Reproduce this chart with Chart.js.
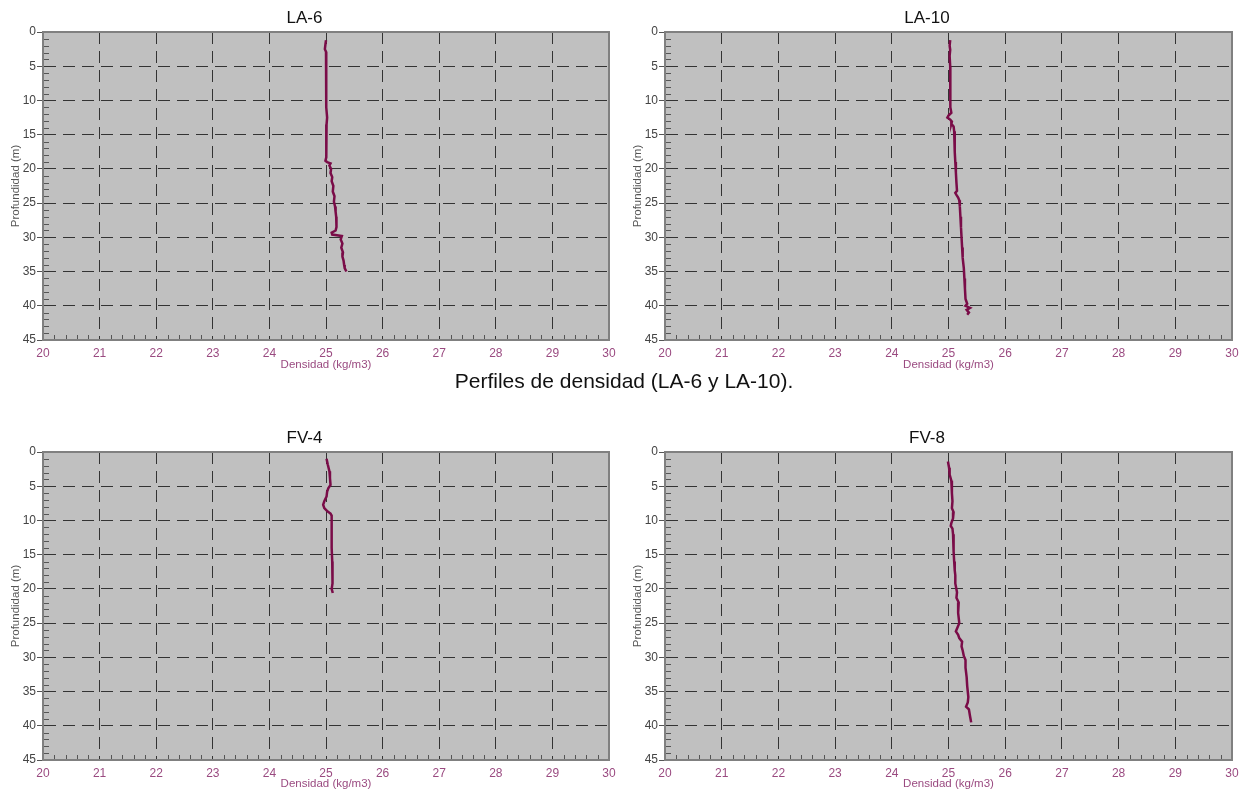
<!DOCTYPE html>
<html>
<head>
<meta charset="utf-8">
<script src="https://cdn.jsdelivr.net/npm/chart.js@4.4.1/dist/chart.umd.min.js"></script>
<style>
  html, body { margin: 0; padding: 0; background: #ffffff; overflow: hidden; }
  body { width: 1246px; height: 791px; position: relative; font-family: Arial, "Liberation Sans", sans-serif; }
  canvas { position: absolute; }
  #caption { position: absolute; left: 0; width: 1248px; top: 369px; text-align: center; font-size: 21px; color: #111; font-family: Arial, "Liberation Sans", sans-serif; }
</style>
</head>
<body>
<canvas id="c1" width="623" height="372" style="left:0px;top:0px"></canvas>
<canvas id="c2" width="624" height="372" style="left:622px;top:0px"></canvas>
<canvas id="c3" width="623" height="371" style="left:0px;top:420px"></canvas>
<canvas id="c4" width="624" height="371" style="left:622px;top:420px"></canvas>
<div id="caption">Perfiles de densidad (LA-6 y LA-10).</div>
<script>
// ---- Data ----
const densityTicks = [20, 21, 22, 23, 24, 25, 26, 27, 28, 29, 30];
const depthTicks = [0, 5, 10, 15, 20, 25, 30, 35, 40, 45];
const chartTitles = ['LA-6', 'LA-10', 'FV-4', 'FV-8'];
const xAxisTitle = 'Densidad (kg/m3)';
const yAxisTitle = 'Profundidad (m)';

const la6Depth   = [1.2, 1.8, 2.5, 2.9, 3.4, 4.5, 5.5, 6.5, 8, 9.5, 11, 12.5, 13.5, 15, 16.5, 17.5, 18.3, 18.8, 19.0, 19.2, 19.5, 20.0, 20.6, 21.2, 21.8, 22.5, 23.3, 24.0, 24.8, 25.5, 26.3, 27.0, 27.8, 28.5, 29.0, 29.3, 29.6, 29.8, 30.3, 30.9, 31.5, 32.2, 32.8, 33.4, 34.0, 34.5, 35.0];
const la6Density = [25.00, 24.99, 24.98, 25.00, 25.01, 25.00, 25.01, 25.00, 25.00, 25.01, 25.00, 25.02, 25.01, 25.00, 25.01, 25.00, 25.01, 24.99, 25.02, 25.08, 25.06, 25.09, 25.08, 25.11, 25.10, 25.13, 25.12, 25.15, 25.14, 25.16, 25.17, 25.18, 25.19, 25.18, 25.17, 25.10, 25.11, 25.28, 25.26, 25.29, 25.27, 25.30, 25.29, 25.31, 25.32, 25.33, 25.36];

const la10Depth   = [1.2, 2.0, 2.6, 3.5, 5, 6.5, 8, 9.5, 11, 11.8, 12.2, 12.5, 12.8, 13.1, 13.4, 13.8, 14.5, 16, 17.5, 19, 20.5, 22, 23.2, 23.5, 23.8, 24.2, 24.6, 25.5, 27, 28.5, 30, 31.5, 33, 34.5, 36, 37.5, 39, 39.7, 40.0, 40.3, 40.6, 41.0, 41.3];
const la10Density = [25.03, 25.02, 25.03, 25.02, 25.03, 25.03, 25.03, 25.03, 25.04, 25.05, 25.00, 24.98, 25.03, 25.06, 25.05, 25.09, 25.10, 25.11, 25.11, 25.12, 25.13, 25.14, 25.15, 25.12, 25.14, 25.17, 25.19, 25.20, 25.21, 25.22, 25.23, 25.24, 25.25, 25.27, 25.28, 25.29, 25.30, 25.33, 25.30, 25.38, 25.32, 25.36, 25.33];

const fv4Depth   = [1.0, 1.8, 2.8, 3.8, 4.8, 5.3, 5.8, 6.5, 7.2, 7.7, 8.2, 8.7, 9.0, 9.3, 10.5, 12, 14, 16, 18, 19.2, 20.0, 20.6];
const fv4Density = [25.01, 25.03, 25.06, 25.07, 25.08, 25.04, 25.02, 25.01, 24.97, 24.95, 24.97, 25.03, 25.08, 25.10, 25.10, 25.10, 25.10, 25.11, 25.11, 25.12, 25.10, 25.12];

const fv8Depth   = [1.4, 2.3, 3.3, 4.2, 4.8, 6, 7.2, 8.2, 8.8, 9.7, 10.4, 10.8, 11.2, 12, 13.2, 14.5, 16, 17.3, 18, 19.2, 20.5, 21.3, 22, 23.5, 25, 25.6, 26.2, 26.7, 27.2, 27.7, 28.4, 29, 29.8, 30.4, 31.5, 32.9, 34.2, 35.8, 36.6, 37.2, 37.6, 38.6, 39.5];
const fv8Density = [24.99, 25.01, 25.02, 25.05, 25.06, 25.06, 25.07, 25.06, 25.09, 25.08, 25.05, 25.04, 25.07, 25.08, 25.09, 25.09, 25.10, 25.11, 25.12, 25.12, 25.15, 25.14, 25.18, 25.17, 25.19, 25.16, 25.13, 25.17, 25.19, 25.24, 25.23, 25.25, 25.27, 25.30, 25.30, 25.32, 25.33, 25.35, 25.34, 25.31, 25.36, 25.38, 25.40];

// ---- Styling ----
const FONT = 'Arial, "Liberation Sans", sans-serif';
const PLOT_BG = '#c0c0c0';
const FRAME = '#808080';
const GRID = '#333333';
const LINE = '#7a0c48';
const XLABEL = '#9a4a80';
const YLABEL = '#444444';

const plotDecor = {
  id: 'plotDecor',
  beforeDraw(chart) {
    const a = chart.chartArea, ctx = chart.ctx;
    ctx.save();
    ctx.fillStyle = PLOT_BG;
    ctx.fillRect(a.left, a.top, a.right - a.left, a.bottom - a.top);
    ctx.restore();
  },
  afterDraw(chart) {
    const a = chart.chartArea, ctx = chart.ctx;
    const xs = chart.scales.x, ys = chart.scales.y;
    ctx.save();
    ctx.strokeStyle = '#555555';
    ctx.lineWidth = 1;
    ctx.beginPath();
    for (let i = 1; i < 45; i++) {
      if (i % 5 === 0) continue;
      const py = Math.round(ys.getPixelForValue(i)) + 0.5;
      ctx.moveTo(a.left, py); ctx.lineTo(a.left + 6, py);
    }
    for (let k = 1; k < 50; k++) {
      if (k % 5 === 0) continue;
      const px = Math.round(xs.getPixelForValue(20 + k * 0.2)) + 0.5;
      ctx.moveTo(px, a.bottom); ctx.lineTo(px, a.bottom - 5);
    }
    ctx.stroke();
    ctx.strokeStyle = FRAME;
    ctx.lineWidth = 2;
    ctx.strokeRect(a.left, a.top, a.right - a.left, a.bottom - a.top);
    ctx.restore();
  }
};

function makeChart(id, title, depth, density, xAxisHeight) {
  const pts = density.map((d, i) => ({ x: d, y: depth[i] }));
  return new Chart(document.getElementById(id), {
    type: 'line',
    data: {
      datasets: [{
        data: pts,
        borderColor: LINE,
        borderWidth: 2.5,
        pointRadius: 0,
        fill: false,
        tension: 0
      }]
    },
    options: {
      responsive: false,
      animation: false,
      devicePixelRatio: 1,
      layout: { padding: { left: 0, right: 14, top: 0, bottom: 0 } },
      plugins: {
        legend: { display: false },
        tooltip: { enabled: false },
        title: {
          display: true,
          text: title,
          color: '#111111',
          font: { family: FONT, size: 17, weight: 'normal', lineHeight: 1.2 },
          padding: { top: 8, bottom: 3.6 }
        }
      },
      scales: {
        x: {
          type: 'linear',
          min: 20, max: 30,
          afterBuildTicks: s => { s.ticks = densityTicks.map(v => ({ value: v })); },
          afterFit: s => { s.height = xAxisHeight; },
          ticks: {
            color: XLABEL, padding: 6, autoSkip: false, maxRotation: 0,
            font: { family: FONT, size: 12 }
          },
          grid: {
            color: c => (c.tick && (c.tick.value === 20 || c.tick.value === 30)) ? 'rgba(0,0,0,0)' : GRID,
            lineWidth: 1,
            drawTicks: false
          },
          border: { display: true, color: FRAME, width: 2, dash: [12, 7] },
          title: {
            display: true, text: xAxisTitle, color: XLABEL,
            font: { family: FONT, size: 11.5 }, padding: 0
          }
        },
        y: {
          type: 'linear',
          reverse: true,
          min: 0, max: 45,
          afterBuildTicks: s => { s.ticks = depthTicks.map(v => ({ value: v })); },
          afterFit: s => { s.width = 43; },
          ticks: {
            color: YLABEL, padding: 1,
            font: { family: FONT, size: 12 }
          },
          grid: {
            color: c => (c.tick && (c.tick.value === 0 || c.tick.value === 45)) ? 'rgba(0,0,0,0)' : GRID,
            lineWidth: 1,
            drawTicks: true,
            tickLength: 6,
            tickColor: '#555555'
          },
          border: { display: true, color: FRAME, width: 2, dash: [12, 7] },
          title: {
            display: true, text: yAxisTitle, color: '#555555',
            font: { family: FONT, size: 11.5 }, padding: { top: 9, bottom: 0 }
          }
        }
      }
    },
    plugins: [plotDecor]
  });
}

makeChart('c1', chartTitles[0], la6Depth, la6Density, 32);
makeChart('c2', chartTitles[1], la10Depth, la10Density, 32);
makeChart('c3', chartTitles[2], fv4Depth, fv4Density, 31);
makeChart('c4', chartTitles[3], fv8Depth, fv8Density, 31);
</script>
</body>
</html>
